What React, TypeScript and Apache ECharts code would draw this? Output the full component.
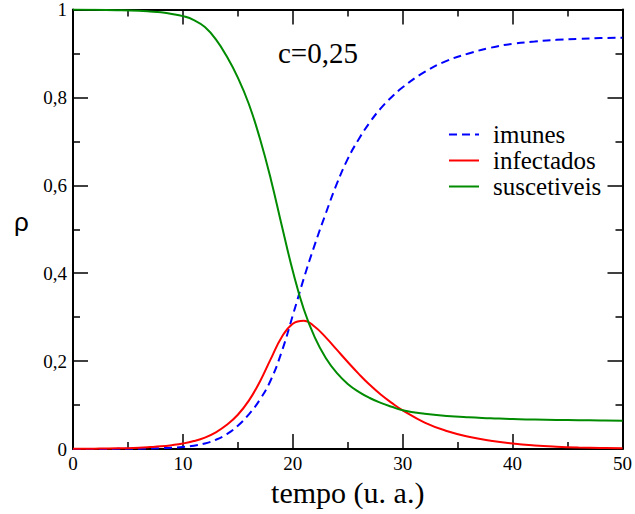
import React, { useEffect, useRef } from "react";
import * as echarts from "echarts";

// time samples (u. a.)
const tempo = [0, 2, 4, 6, 7, 8, 9, 10, 11, 12, 13, 14, 15, 16, 17, 18, 19, 20, 21, 22, 23, 24, 25, 26, 27, 28, 29, 30, 32, 34, 36, 38, 40, 42, 44, 46, 48, 50];

const imunes = [0, 0.0001, 0.0003, 0.0008, 0.0012, 0.002, 0.003, 0.0045, 0.0075, 0.0125, 0.021, 0.034, 0.053, 0.079, 0.112, 0.157, 0.222, 0.304, 0.388, 0.465, 0.536, 0.603, 0.66, 0.705, 0.743, 0.775, 0.801, 0.823, 0.858, 0.883, 0.9, 0.913, 0.922, 0.927, 0.931, 0.933, 0.935, 0.936];

const infectados = [0.0005, 0.0008, 0.0015, 0.003, 0.0043, 0.006, 0.0088, 0.0125, 0.018, 0.026, 0.038, 0.055, 0.078, 0.11, 0.153, 0.205, 0.255, 0.285, 0.292, 0.278, 0.254, 0.226, 0.198, 0.171, 0.146, 0.124, 0.105, 0.088, 0.06, 0.041, 0.028, 0.019, 0.0125, 0.0082, 0.0054, 0.0035, 0.0023, 0.0015];

const suscetiveis = [1.0, 0.9995, 0.9985, 0.997, 0.9955, 0.9935, 0.99, 0.985, 0.976, 0.96, 0.932, 0.893, 0.845, 0.785, 0.707, 0.614, 0.508, 0.405, 0.318, 0.254, 0.207, 0.173, 0.148, 0.13, 0.116, 0.105, 0.096, 0.088, 0.08, 0.075, 0.072, 0.07, 0.068, 0.067, 0.066, 0.0655, 0.065, 0.0645];

const seriesNames = ["imunes", "infectados", "suscetiveis"];
const xTickLabels = ["0", "10", "20", "30", "40", "50"];
const yTickLabels = ["0", "0,2", "0,4", "0,6", "0,8", "1"];
const annotation = "c=0,25";
const xTitle = "tempo (u. a.)";
const yTitle = "ρ";

const SERIF = "Liberation Serif";
const SANS = "Liberation Sans";

const css = `
#chart-root svg text { font-family: "Liberation Serif", "Times New Roman", serif !important; }
#chart-root svg text.rho-label { font-family: "Liberation Sans", Arial, sans-serif !important; }
`;

function pairs(ys: number[]) {
  return tempo.map((t, i) => [t, ys[i]]);
}

export default function App() {
  const ref = useRef<HTMLDivElement>(null);
  useEffect(() => {
    if (!ref.current) return;
    const chart = echarts.init(ref.current, undefined, { renderer: "svg" });
    const axisCommon = {
      type: "value" as const,
      axisLine: { show: true, onZero: false, lineStyle: { color: "#000", width: 2 } },
      axisTick: { show: true, inside: true, length: 15, lineStyle: { color: "#000", width: 1.5 } },
      minorTick: { show: true, splitNumber: 2, length: 7, lineStyle: { color: "#000", width: 1.5 } },
      splitLine: { show: false },
    };
    const xLabel = (v: number) => xTickLabels[Math.round(v / 10)] ?? "";
    const yLabel = (v: number) => yTickLabels[Math.round(v / 0.2)] ?? "";
    chart.setOption({
      animation: false,
      backgroundColor: "#fff",
      textStyle: { fontFamily: SERIF },
      grid: { left: 73, right: 11, top: 8, bottom: 65, containLabel: false },
      legend: {
        orient: "vertical",
        left: 448,
        top: 122,
        padding: 0,
        itemWidth: 30,
        itemHeight: 14,
        itemGap: 1,
        itemStyle: { opacity: 0 },
        data: seriesNames,
        textStyle: { fontFamily: SERIF, fontSize: 25, color: "#000", lineHeight: 24, padding: [0, 0, 0, 9] },
      },
      xAxis: [
        {
          ...axisCommon,
          position: "bottom",
          min: 0,
          max: 50,
          interval: 10,
          axisLabel: { show: true, fontFamily: SERIF, fontSize: 19, color: "#000", margin: 5, formatter: xLabel },
          name: xTitle,
          nameLocation: "middle",
          nameGap: 25,
          nameTextStyle: { fontFamily: SERIF, fontSize: 30, color: "#000" },
        },
        {
          ...axisCommon,
          position: "top",
          min: 0,
          max: 50,
          interval: 10,
          axisLabel: { show: false },
        },
      ],
      yAxis: [
        {
          ...axisCommon,
          position: "left",
          min: 0,
          max: 1,
          interval: 0.2,
          axisLabel: { show: true, fontFamily: SERIF, fontSize: 19, color: "#000", margin: 6, formatter: yLabel },
        },
        {
          ...axisCommon,
          position: "right",
          min: 0,
          max: 1,
          interval: 0.2,
          axisLabel: { show: false },
        },
      ],
      graphic: [
        {
          type: "text",
          left: 278,
          top: 38,
          style: { text: annotation, fontFamily: SERIF, fontSize: 29, fill: "#000" },
        },
        {
          type: "text",
          id: "rho",
          x: 21.5,
          y: 222,
          style: { text: yTitle, fontFamily: SANS, fontSize: 26, fill: "#000", align: "center", verticalAlign: "middle" },
        },
      ],
      series: [
        {
          name: seriesNames[0],
          type: "line",
          data: pairs(imunes),
          symbol: "none",
          smooth: 0.45,
          lineStyle: { color: "#0000ff", width: 2, type: [8, 5] },
          itemStyle: { color: "#0000ff" },
        },
        {
          name: seriesNames[1],
          type: "line",
          data: pairs(infectados),
          symbol: "none",
          smooth: 0.45,
          lineStyle: { color: "#ff0000", width: 2 },
          itemStyle: { color: "#ff0000" },
        },
        {
          name: seriesNames[2],
          type: "line",
          data: pairs(suscetiveis),
          symbol: "none",
          smooth: 0.45,
          lineStyle: { color: "#008b00", width: 2 },
          itemStyle: { color: "#008b00" },
        },
      ],
    });
    const texts = ref.current.querySelectorAll("svg text");
    texts.forEach((t) => {
      if (t.textContent === yTitle) t.setAttribute("class", "rho-label");
    });
    return () => chart.dispose();
  }, []);
  return (
    <>
      <style>{css}</style>
      <div id="chart-root" ref={ref} style={{ width: 635, height: 514, position: "absolute", left: 0, top: 0 }} />
    </>
  );
}
